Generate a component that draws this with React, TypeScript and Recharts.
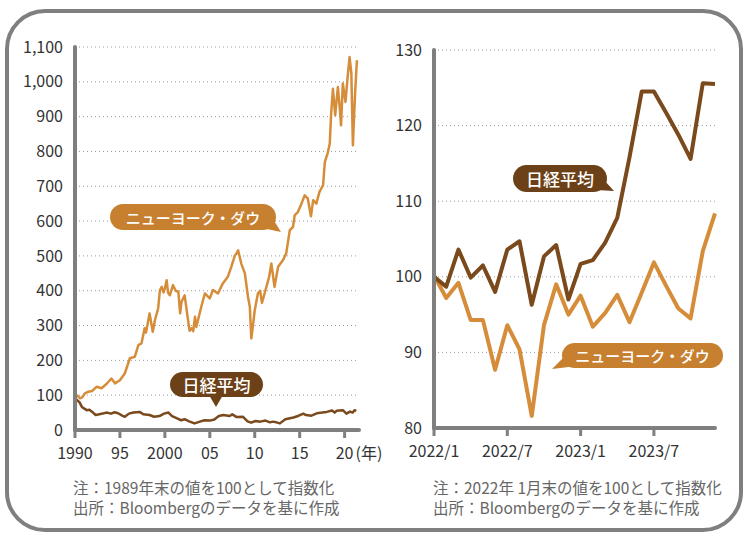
import React from 'react';
import { LineChart, Line, XAxis, YAxis, CartesianGrid } from 'recharts';

const FONT = "'Noto Sans CJK JP', 'Noto Sans', sans-serif";
const DOW_COLOR = '#d68d3a';
const NIKKEI_COLOR = '#7a491c';
const DOW_TAG = '#c7802f';
const NIKKEI_TAG = '#6c4118';
const AXIS_GRAY = '#7f7f7f';
const TEXT = '#333333';
const NOTE = '#666666';

// left: 1989年末 = 100
const longYearTicks = [1990, 1995, 2000, 2005, 2010, 2015, 2020];
const longYearLabels = ['1990', '95', '2000', '05', '10', '15', '20'];
const longValueTicks = [0, 100, 200, 300, 400, 500, 600, 700, 800, 900, 1000, 1100];

// [year, index]
const dowLong: [number, number][] = [
  [1990.0, 100], [1990.2, 100], [1990.55, 91], [1990.8, 94], [1991.1, 105], [1991.5, 110],
  [1991.9, 112], [1992.4, 124], [1992.95, 120], [1993.5, 132], [1994.05, 148], [1994.45, 134],
  [1995.0, 143], [1995.55, 163], [1996.1, 206], [1996.65, 210], [1997.05, 244], [1997.4, 249],
  [1997.75, 292], [1997.9, 280], [1998.3, 335], [1998.65, 282], [1998.9, 316], [1999.25, 349],
  [1999.45, 402], [1999.65, 411], [1999.85, 395], [2000.0, 407], [2000.2, 430], [2000.35, 395],
  [2000.55, 387], [2000.9, 416], [2001.2, 400], [2001.5, 397], [2001.7, 335], [2001.85, 368],
  [2002.2, 387], [2002.5, 330], [2002.75, 285], [2002.95, 292], [2003.15, 284], [2003.35, 325],
  [2003.5, 296], [2004.05, 354], [2004.45, 392], [2005.0, 378], [2005.35, 402], [2005.9, 392],
  [2006.45, 421], [2007.0, 440], [2007.4, 469], [2007.8, 502], [2008.0, 508], [2008.15, 516],
  [2008.5, 478], [2008.9, 450], [2009.25, 382], [2009.45, 354], [2009.62, 263], [2009.8, 300],
  [2010.0, 344], [2010.35, 392], [2010.6, 400], [2010.8, 365], [2011.2, 402], [2011.6, 440],
  [2011.85, 478], [2012.2, 411], [2012.6, 469], [2013.15, 488], [2013.5, 507], [2013.9, 574],
  [2014.25, 583], [2014.45, 617], [2014.8, 626], [2015.2, 650], [2015.55, 674], [2015.9, 665],
  [2016.25, 614], [2016.5, 660], [2016.85, 650], [2017.2, 684], [2017.6, 703], [2017.8, 770],
  [2018.1, 794], [2018.35, 823], [2018.5, 909], [2018.7, 980], [2018.95, 904], [2019.25, 985],
  [2019.45, 928], [2019.6, 875], [2019.8, 995], [2020.1, 942], [2020.3, 1004], [2020.55, 1071],
  [2020.75, 1024], [2020.92, 818], [2021.05, 900], [2021.2, 985], [2021.37, 1062],
];

const nikkeiLong: [number, number][] = [
  [1990.0, 92], [1990.2, 86], [1990.5, 80], [1990.75, 67], [1991.0, 62], [1991.3, 57],
  [1991.6, 58], [1992.0, 50], [1992.3, 43], [1992.7, 45], [1993.2, 48], [1993.5, 50],
  [1994.0, 47], [1994.4, 51], [1994.8, 48], [1995.2, 42], [1995.55, 38], [1996.0, 47],
  [1996.5, 50], [1997.2, 52], [1997.6, 45], [1998.3, 43], [1998.8, 38], [1999.4, 40],
  [1999.9, 47], [2000.4, 50], [2000.8, 40], [2001.3, 34], [2001.8, 28], [2002.2, 31],
  [2002.7, 25], [2003.3, 19], [2003.9, 24], [2004.4, 28], [2005.0, 27], [2005.5, 30],
  [2006.0, 40], [2006.5, 43], [2007.2, 40], [2007.5, 45], [2008.0, 37], [2008.7, 38],
  [2009.2, 25], [2009.6, 21], [2010.1, 26], [2010.6, 24], [2011.2, 27], [2011.7, 22],
  [2012.0, 24], [2012.4, 22], [2012.8, 19], [2013.4, 31], [2014.3, 36], [2014.9, 41],
  [2015.4, 47], [2015.7, 43], [2016.3, 41], [2016.9, 48], [2017.5, 50], [2018.0, 52],
  [2018.6, 56], [2018.9, 50], [2019.1, 55], [2019.8, 57], [2020.2, 47], [2020.6, 53],
  [2020.9, 50], [2021.1, 57], [2021.3, 55],
];

// right: 2022年1月末 = 100
const recentMonths = [
  '2022/1', '2022/2', '2022/3', '2022/4', '2022/5', '2022/6', '2022/7', '2022/8', '2022/9', '2022/10', '2022/11', '2022/12',
  '2023/1', '2023/2', '2023/3', '2023/4', '2023/5', '2023/6', '2023/7', '2023/8', '2023/9', '2023/10', '2023/11', '2023/12',
];
const nikkeiRecent = [100, 98.7, 103.6, 99.9, 101.5, 98.0, 103.6, 104.7, 96.3, 102.7, 104.2, 97.0, 101.7, 102.2, 104.5, 107.8, 115.8, 124.5, 124.5, 121.7, 118.8, 115.6, 125.6, 125.5];
const dowRecent = [100.2, 97.2, 99.2, 94.3, 94.3, 87.7, 93.6, 90.4, 81.6, 93.6, 99.0, 95.0, 97.5, 93.4, 95.2, 97.6, 94.0, 97.9, 101.9, 98.8, 95.8, 94.5, 103.4, 108.4];
const recentValueTicks = [80, 90, 100, 110, 120, 130];

const dowLongData = dowLong.map(([year, value]) => ({ year, value }));
const nikkeiLongData = nikkeiLong.map(([year, value]) => ({ year, value }));
const recentData = recentMonths.map((month, i) => ({ month, nikkei: nikkeiRecent[i], dow: dowRecent[i] }));

const axisLine = { stroke: AXIS_GRAY, strokeWidth: 4, strokeLinecap: 'round' as const };
const tickLine = { stroke: AXIS_GRAY, strokeWidth: 3 };
const tickStyle = { fill: TEXT, fontSize: 16, fontFamily: FONT };

const YearTick = (props: any) => {
  const { x, y, payload } = props;
  const i = longYearTicks.indexOf(payload.value);
  return (
    <g>
      <text x={x} y={y} dy="0.71em" textAnchor="middle" fill={TEXT} fontSize={16} fontFamily={FONT}>
        {longYearLabels[i]}
      </text>
      {payload.value === 2020 && (
        <text x={x + 11} y={y} dy="0.71em" textAnchor="start" fill={TEXT} fontSize={16} fontFamily={FONT}>
          (年)
        </text>
      )}
    </g>
  );
};

const Tag = ({ x, y, w, h, fill, tail, label, size }: any) => (
  <g>
    <polygon points={tail} fill={fill} />
    <rect x={x} y={y} width={w} height={h} rx={h / 2} fill={fill} />
    <text x={x + w / 2} y={y + h / 2} textAnchor="middle" dominantBaseline="central" fill="#fff"
      fontSize={size} fontWeight={500} fontFamily={FONT}>
      {label}
    </text>
  </g>
);

export default function App() {
  return (
    <div style={{ position: 'absolute', left: 0, top: 0, width: 750, height: 539, background: '#fff', fontFamily: FONT }}>
      <div style={{ position: 'absolute', left: 0, top: 0 }}>
        <LineChart width={392} height={470} margin={{ top: 47, right: 33, bottom: 10, left: 0 }}>
          <CartesianGrid vertical={false} stroke="#9a9a9a" strokeDasharray="1 3" />
          <XAxis type="number" dataKey="year" domain={[1990, 2021.6]} ticks={longYearTicks} interval={0}
            allowDataOverflow height={30} axisLine={axisLine} tickLine={tickLine} tickSize={8} tickMargin={10}
            tick={<YearTick />} />
          <YAxis type="number" domain={[0, 1100]} ticks={longValueTicks} interval={0} width={75}
            axisLine={axisLine} tickLine={false} tickSize={6} tickMargin={6} tick={tickStyle}
            tickFormatter={(v: number) => v.toLocaleString('en-US')} />
          <Line data={nikkeiLongData} dataKey="value" stroke={NIKKEI_COLOR} strokeWidth={2.5}
            strokeLinejoin="round" dot={false} isAnimationActive={false} />
          <Line data={dowLongData} dataKey="value" stroke={DOW_COLOR} strokeWidth={2.5}
            strokeLinejoin="round" dot={false} isAnimationActive={false} />
        </LineChart>
      </div>

      <div style={{ position: 'absolute', left: 380, top: 0 }}>
        <LineChart width={370} height={470} data={recentData} margin={{ top: 50, right: 35, bottom: 12, left: 0 }}>
          <CartesianGrid vertical={false} stroke="#9a9a9a" strokeDasharray="1 3" />
          <XAxis dataKey="month" interval={5} height={30} axisLine={axisLine} tickLine={tickLine}
            tickSize={8} tickMargin={10} tick={tickStyle} />
          <YAxis type="number" domain={[80, 130]} ticks={recentValueTicks} interval={0} width={54}
            axisLine={axisLine} tickLine={false} tickSize={6} tickMargin={6} tick={tickStyle} />
          <Line dataKey="dow" stroke={DOW_COLOR} strokeWidth={4} strokeLinejoin="round" dot={false} isAnimationActive={false} />
          <Line dataKey="nikkei" stroke={NIKKEI_COLOR} strokeWidth={4} strokeLinejoin="round" dot={false} isAnimationActive={false} />
        </LineChart>
      </div>

      <svg width={750} height={539} style={{ position: 'absolute', left: 0, top: 0, pointerEvents: 'none' }}>
        <rect x={7} y={11} width={734} height={519} rx={38} fill="none" stroke={AXIS_GRAY} strokeWidth={4} />

        <Tag x={110} y={204} w={166} h={26} fill={DOW_TAG} tail="262,228 281,232 273,219" label="ニューヨーク・ダウ" size={15} />
        <Tag x={170} y={372} w={93} h={25} fill={NIKKEI_TAG} tail="209,395 216,407 223,395" label="日経平均" size={17} />
        <Tag x={513} y={165} w={94} h={27} fill={NIKKEI_TAG} tail="596,190 614,191 604,180" label="日経平均" size={17} />
        <Tag x={562} y={343} w={161} h={25} fill={DOW_TAG} tail="577,366 552,369 567,354" label="ニューヨーク・ダウ" size={15} />

        <g fill={NOTE} fontSize={15.5} fontFamily={FONT}>
          <text x={73} y={494}>注：1989年末の値を100として指数化</text>
          <text x={73} y={514}>出所：Bloombergのデータを基に作成</text>
          <text x={433} y={494}>注：2022年 1月末の値を100として指数化</text>
          <text x={433} y={514}>出所：Bloombergのデータを基に作成</text>
        </g>
      </svg>
    </div>
  );
}
